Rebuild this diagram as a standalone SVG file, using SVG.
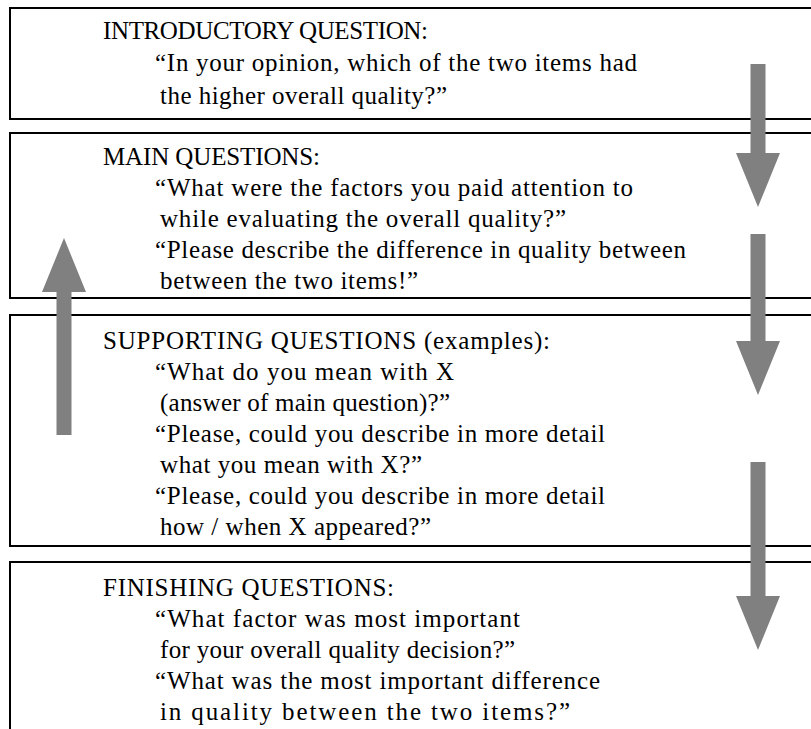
<svg xmlns="http://www.w3.org/2000/svg" width="811" height="729" viewBox="0 0 811 729">
<style>
.box{fill:#fff;stroke:#000;stroke-width:2}
text{font-family:"Liberation Serif","Times New Roman",serif;font-size:25px;fill:#000}
.arr{fill:#808080;stroke:none}
</style>
<rect x="0" y="0" width="811" height="729" fill="#fff"/>
<g id="introductory">
<rect class="box" x="10" y="8" width="820" height="111"/>
<text x="103" y="39" textLength="325" lengthAdjust="spacing">INTRODUCTORY QUESTION:</text>
<text x="155" y="71" textLength="482" lengthAdjust="spacing">“In your opinion, which of the two items had</text>
<text x="160" y="104" textLength="287" lengthAdjust="spacing">the higher overall quality?”</text>
</g>
<g id="main">
<rect class="box" x="10" y="133" width="820" height="165"/>
<text x="103" y="165" textLength="217" lengthAdjust="spacing">MAIN QUESTIONS:</text>
<text x="155" y="196" textLength="478" lengthAdjust="spacing">“What were the factors you paid attention to</text>
<text x="160" y="227" textLength="406" lengthAdjust="spacing">while evaluating the overall quality?”</text>
<text x="155" y="258" textLength="531" lengthAdjust="spacing">“Please describe the difference in quality between</text>
<text x="160" y="289" textLength="258" lengthAdjust="spacing">between the two items!”</text>
</g>
<g id="supporting">
<rect class="box" x="10" y="315" width="820" height="231"/>
<text x="103" y="349" textLength="447" lengthAdjust="spacing">SUPPORTING QUESTIONS (examples):</text>
<text x="155" y="380" textLength="299" lengthAdjust="spacing">“What do you mean with X</text>
<text x="160" y="411" textLength="290" lengthAdjust="spacing">(answer of main question)?”</text>
<text x="155" y="442" textLength="450" lengthAdjust="spacing">“Please, could you describe in more detail</text>
<text x="160" y="473" textLength="262" lengthAdjust="spacing">what you mean with X?”</text>
<text x="155" y="504" textLength="450" lengthAdjust="spacing">“Please, could you describe in more detail</text>
<text x="160" y="535" textLength="271" lengthAdjust="spacing">how / when X appeared?”</text>
</g>
<g id="finishing">
<rect class="box" x="10" y="562" width="820" height="200"/>
<text x="103" y="596" textLength="291" lengthAdjust="spacing">FINISHING QUESTIONS:</text>
<text x="155" y="627" textLength="365" lengthAdjust="spacing">“What factor was most important</text>
<text x="160" y="658" textLength="355" lengthAdjust="spacing">for your overall quality decision?”</text>
<text x="155" y="689" textLength="445" lengthAdjust="spacing">“What was the most important difference</text>
<text x="160" y="720" textLength="410" lengthAdjust="spacing">in quality between the two items?”</text>
</g>
<g id="connectors">
<path class="arr" d="M750.5,64 H765.5 V153 H780 L758,207 L736,153 H750.5 Z"/>
<path class="arr" d="M750.5,234 H765.5 V341 H780 L758,395 L736,341 H750.5 Z"/>
<path class="arr" d="M750.5,462 H765.5 V596 H780 L758,650 L736,596 H750.5 Z"/>
<path class="arr" d="M56.5,435 H71.5 V292 H86 L64,238 L42,292 H56.5 Z"/>
</g>
</svg>
